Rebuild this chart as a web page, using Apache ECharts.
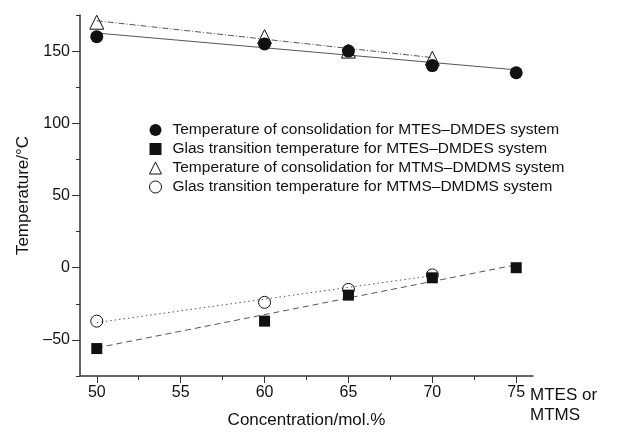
<!DOCTYPE html>
<html>
<head>
<meta charset="utf-8">
<script src="https://cdn.jsdelivr.net/npm/echarts@6/dist/echarts.min.js"></script>
<style>
html, body { margin: 0; padding: 0; background: #fff; }
#chart { width: 617px; height: 434px; }
</style>
</head>
<body>
<div id="chart"></div>
<script>
// concentration of MTES or MTMS, mol.%
var concMTES = [50, 60, 65, 70, 75];
var concMTMS = [50, 60, 65, 70];

// measured temperatures, °C
var consolMTES = [160, 155, 150, 140, 135];
var glassMTES = [-56, -37, -19, -7, 0];
var consolMTMS = [170, 160, 150, 145];
var glassMTMS = [-37, -24, -15, -5];

// fitted lines, endpoints
var fitConsolMTES = [[50, 162.5], [75, 137]];
var fitGlassMTES = [[50, -55.5], [75, 2]];
var fitConsolMTMS = [[50, 171], [70, 145.5]];
var fitGlassMTMS = [[50, -38], [70, -5.5]];

// ticks
var xMajor = [50, 55, 60, 65, 70, 75];
var xMinor = [52.5, 57.5, 62.5, 67.5, 72.5];
var yMajor = [-50, 0, 50, 100, 150];
var yMinor = [-75, -25, 25, 75, 125, 175];

var names = [
	'Temperature of consolidation for MTES\u2013DMDES system',
	'Glas transition temperature for MTES\u2013DMDES system',
	'Temperature of consolidation for MTMS\u2013DMDMS system',
	'Glas transition temperature for MTMS\u2013DMDMS system'
];

function pairs(xs, ys) {
	var out = [];
	for (var i = 0; i < xs.length; i++) out.push([xs[i], ys[i]]);
	return out;
}

var font = 'Liberation Sans, Arial, sans-serif';
var ink = '#111';
var axisCol = '#333';

function fitLine(data, dash) {
	return {
		type: 'line',
		data: data,
		showSymbol: false,
		silent: true,
		z: 1,
		lineStyle: { color: '#555', width: 1, type: dash }
	};
}

var chart = echarts.init(document.getElementById('chart'));
chart.setOption({
	animation: false,
	grid: { left: 80, top: 15, right: 84, bottom: 54 },
	legend: {
		orient: 'vertical',
		left: 149,
		top: 122,
		padding: 0,
		itemWidth: 12,
		itemHeight: 12,
		itemGap: 3,
		textStyle: { fontFamily: font, fontSize: 15.5, color: ink, padding: [0, 0, 0, 6] },
		data: [
			{ name: names[0], icon: 'circle', itemStyle: { color: ink, borderWidth: 0 } },
			{ name: names[1], icon: 'rect', itemStyle: { color: ink, borderWidth: 0 } },
			{ name: names[2], icon: 'triangle', itemStyle: { color: '#fff', borderColor: ink, borderWidth: 1 } },
			{ name: names[3], icon: 'circle', itemStyle: { color: '#fff', borderColor: ink, borderWidth: 1 } }
		]
	},
	xAxis: [{
		type: 'value',
		min: 49, max: 76,
		name: 'Concentration/mol.%',
		nameLocation: 'middle',
		nameGap: 36,
		nameTextStyle: { fontFamily: font, fontSize: 17, color: ink },
		axisLine: { onZero: false, lineStyle: { color: axisCol, width: 1.5 } },
		axisTick: { customValues: xMajor, length: 7, lineStyle: { color: axisCol } },
		axisLabel: { customValues: xMajor, margin: 9, fontFamily: font, fontSize: 16, color: ink },
		splitLine: { show: false }
	}, {
		type: 'value',
		min: 49, max: 76,
		position: 'bottom',
		axisLine: { show: false, onZero: false },
		axisTick: { customValues: xMinor, length: 4, lineStyle: { color: axisCol } },
		axisLabel: { show: false },
		splitLine: { show: false }
	}],
	yAxis: [{
		type: 'value',
		min: -75, max: 175,
		name: 'Temperature/\u00b0C',
		nameLocation: 'middle',
		nameGap: 48,
		nameTextStyle: { fontFamily: font, fontSize: 17, color: ink },
		axisLine: { show: true, onZero: false, lineStyle: { color: axisCol, width: 1.5 } },
		axisTick: { show: true, customValues: yMajor, length: 8, lineStyle: { color: axisCol } },
		axisLabel: {
			customValues: yMajor, margin: 10, fontFamily: font, fontSize: 16, color: ink,
			formatter: function (v) { return String(v).replace('-', '\u2013'); }
		},
		splitLine: { show: false }
	}, {
		type: 'value',
		min: -75, max: 175,
		position: 'left',
		axisLine: { show: false, onZero: false },
		axisTick: { show: true, customValues: yMinor, length: 4, lineStyle: { color: axisCol } },
		axisLabel: { show: false },
		splitLine: { show: false }
	}],
	graphic: [{
		type: 'text',
		left: 530,
		top: 385,
		style: { text: 'MTES or\nMTMS', fontFamily: font, fontSize: 17, lineHeight: 20, fill: ink }
	}],
	series: [
		fitLine(fitConsolMTES, 'solid'),
		fitLine(fitConsolMTMS, [6, 2, 1, 2]),
		fitLine(fitGlassMTES, [6, 4]),
		fitLine(fitGlassMTMS, [1.5, 3]),
		{
			name: names[0], type: 'scatter', data: pairs(concMTES, consolMTES),
			symbol: 'circle', symbolSize: 13, z: 3,
			itemStyle: { color: ink, opacity: 1 }
		},
		{
			name: names[1], type: 'scatter', data: pairs(concMTES, glassMTES),
			symbol: 'rect', symbolSize: 11, z: 3,
			itemStyle: { color: ink, opacity: 1 }
		},
		{
			name: names[2], type: 'scatter', data: pairs(concMTMS, consolMTMS),
			symbol: 'triangle', symbolSize: 14, z: 4,
			itemStyle: { color: 'rgba(255,255,255,0)', borderColor: ink, borderWidth: 1, opacity: 1 }
		},
		{
			name: names[3], type: 'scatter', data: pairs(concMTMS, glassMTMS),
			symbol: 'circle', symbolSize: 12, z: 4,
			itemStyle: { color: 'rgba(255,255,255,0)', borderColor: ink, borderWidth: 1, opacity: 1 }
		}
	]
});
</script>
</body>
</html>
